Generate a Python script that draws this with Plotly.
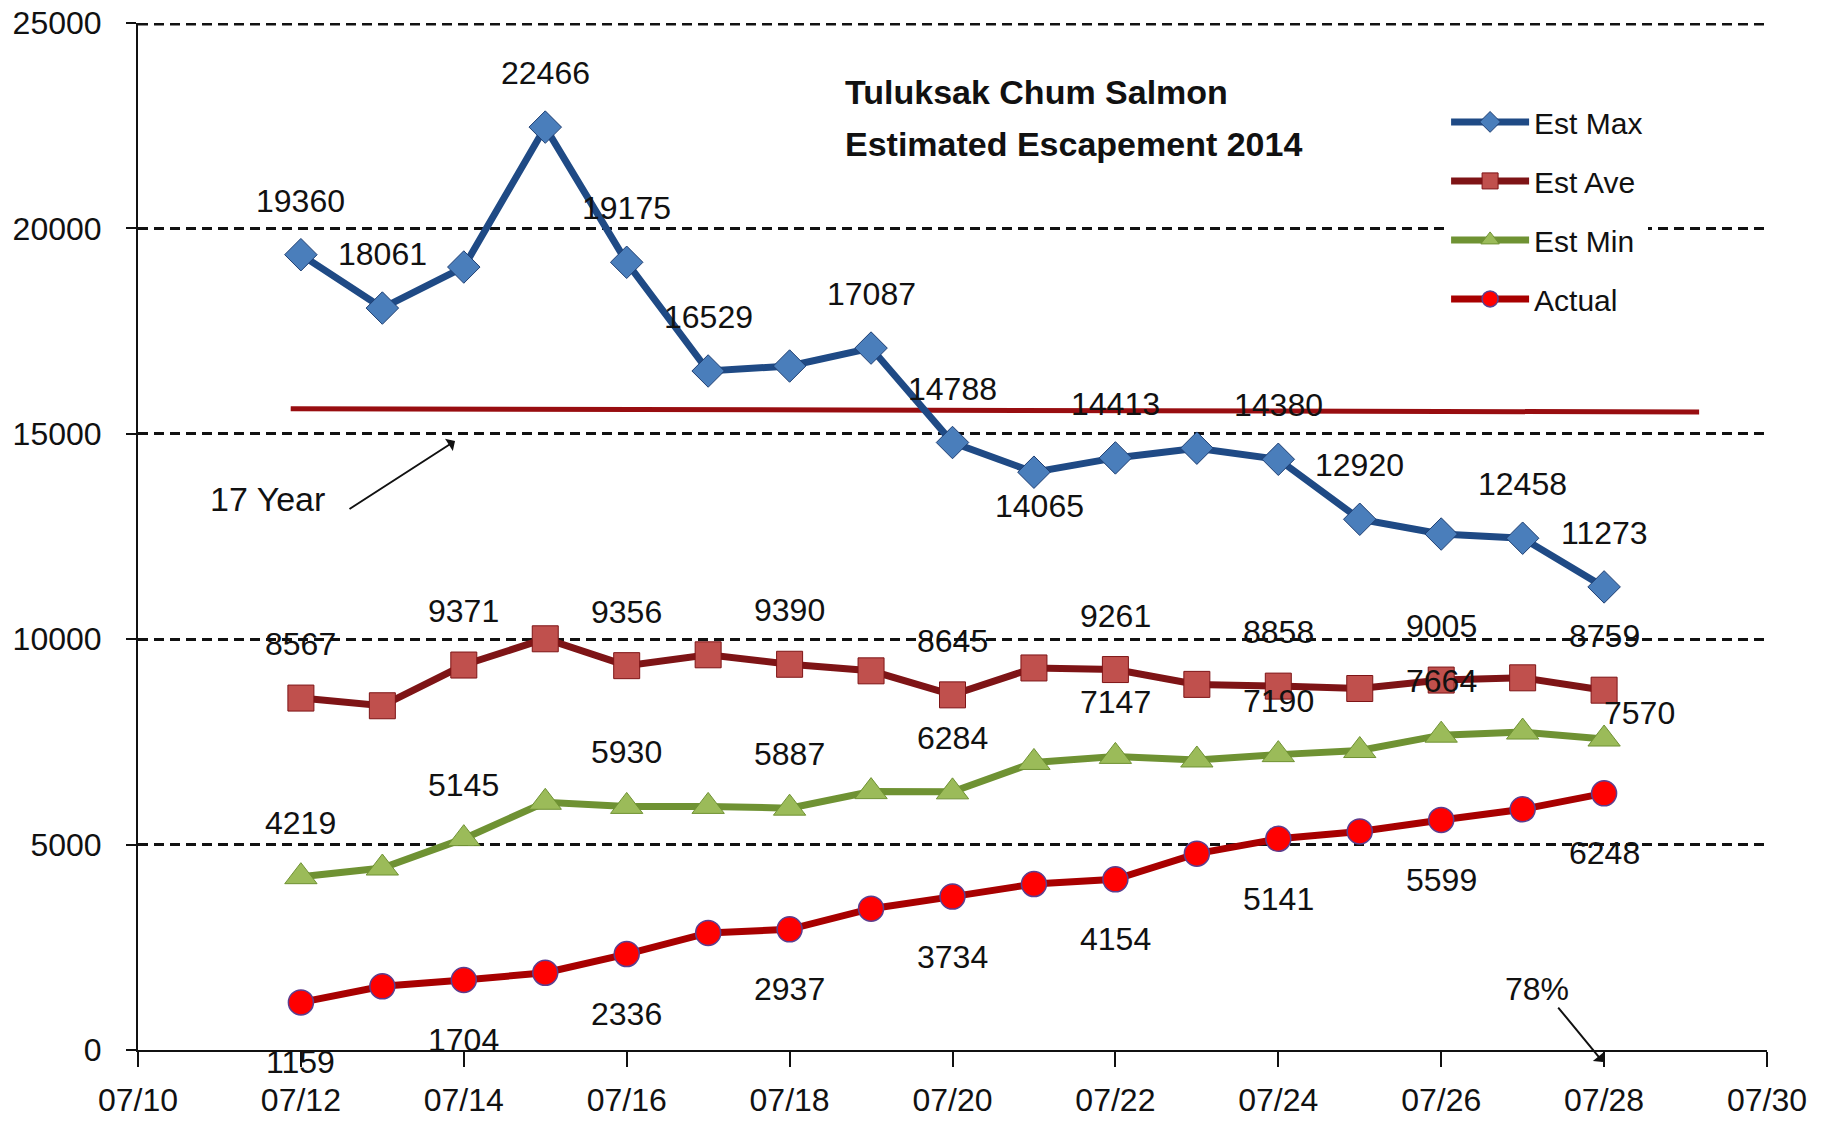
import plotly.graph_objects as go

dates = ["2014-07-%02d" % d for d in range(12, 29)]
est_max = [19360, 18061, 19060, 22466, 19175, 16529, 16650, 17087, 14788, 14065, 14413, 14650, 14380, 12920, 12560, 12458, 11273]
est_ave = [8567, 8380, 9371, 10010, 9356, 9620, 9390, 9230, 8645, 9300, 9261, 8900, 8858, 8800, 9005, 9060, 8759]
est_min = [4219, 4430, 5145, 6030, 5930, 5930, 5887, 6290, 6284, 7000, 7147, 7060, 7190, 7290, 7664, 7740, 7570]
actual = [1159, 1550, 1704, 1880, 2336, 2850, 2937, 3440, 3734, 4040, 4154, 4780, 5141, 5320, 5599, 5860, 6248]

# 17-year reference line
ref_x = ["2014-07-11 21:00", "2014-07-29 04:00"]
ref_y = [15610, 15530]

Y_MAX = 25000

# which points carry a data label, and where it sits (a=above, b=below, r=right)
max_labels = {"07-12": "a", "07-13": "a", "07-15": "a", "07-16": "a", "07-17": "a", "07-19": "a",
              "07-20": "a", "07-21": "b", "07-22": "a", "07-24": "a", "07-25": "a", "07-27": "a", "07-28": "a"}
ave_labels = {k: "a" for k in ["07-12", "07-14", "07-16", "07-18", "07-20", "07-22", "07-24", "07-26", "07-28"]}
min_labels = {k: "a" for k in ["07-12", "07-14", "07-16", "07-18", "07-20", "07-22", "07-24", "07-26"]}
min_labels["07-28"] = "r"
act_labels = {k: "b" for k in ["07-12", "07-14", "07-16", "07-18", "07-20", "07-22", "07-24", "07-26", "07-28"]}

FONT = "Liberation Sans, Arial, sans-serif"
DASH = "10px,6px"

fig = go.Figure()

fig.add_trace(go.Scatter(x=ref_x, y=ref_y, mode="lines", line=dict(color="#980D10", width=5),
                         showlegend=False, hoverinfo="skip"))

series = [
    ("Est Max", est_max, "#1F4A85", dict(symbol="diamond", size=25, color="#4A7EBB", line=dict(color="#1F3F73", width=1)), max_labels),
    ("Est Ave", est_ave, "#7E1416", dict(symbol="square", size=26, color="#C0504D", line=dict(color="#7E1416", width=1)), ave_labels),
    ("Est Min", est_min, "#6F9233", dict(symbol="triangle-up", size=28, color="#9BBB59", line=dict(color="#6F9233", width=1)), min_labels),
    ("Actual", actual, "#A80000", dict(symbol="circle", size=25, color="#FF0000", line=dict(color="#5B3E8F", width=1.5)), act_labels),
]

for i, (name, vals, lc, mk, labs) in enumerate(series):
    fig.add_trace(go.Scatter(x=dates, y=vals, mode="lines+markers", name=name,
                             line=dict(color=lc, width=7), marker=mk, legendgroup=str(i)))

annotations = []
for name, vals, lc, mk, labs in series:
    for d, v in zip(dates, vals):
        key = d[5:]
        if key in labs:
            pos = labs[key]
            if pos == "a":
                xs, ys = 0, 54
            elif pos == "b":
                xs, ys = (6 if name == "Est Max" else 0), (-34 if name == "Est Max" else -60)
            else:
                xs, ys = 35, 26
            annotations.append(dict(x=d, y=v, text=str(v), showarrow=False, xshift=xs, yshift=ys,
                                    xanchor="center", yanchor="middle",
                                    font=dict(family=FONT, size=32, color="#111111")))

# title
annotations.append(dict(xref="paper", yref="paper", x=0.4328, y=0.9328, xanchor="left", yanchor="middle",
                        text="<b>Tuluksak Chum Salmon</b>", showarrow=False,
                        font=dict(family=FONT, size=34, color="#111111")))
annotations.append(dict(xref="paper", yref="paper", x=0.4328, y=0.8822, xanchor="left", yanchor="middle",
                        text="<b>Estimated Escapement 2014</b>", showarrow=False,
                        font=dict(family=FONT, size=34, color="#111111")))
# 17 Year
annotations.append(dict(xref="paper", yref="paper", x=0.0798, y=0.5365, text="17 Year", showarrow=False,
                        xanchor="center", yanchor="middle",
                        font=dict(family=FONT, size=34, color="#111111")))
annotations.append(dict(xref="paper", yref="paper", x=0.1946, y=0.593, text="", showarrow=True,
                        ax=-107, ay=69, arrowhead=1, arrowsize=1.2, arrowwidth=2, arrowcolor="#111111"))
# 78%
annotations.append(dict(xref="paper", yref="paper", x=0.8588, y=0.0594, text="78%", showarrow=False,
                        xanchor="center", yanchor="middle",
                        font=dict(family=FONT, size=32, color="#111111")))
annotations.append(dict(xref="paper", yref="paper", x=0.8993, y=-0.0117, text="", showarrow=True,
                        ax=-46, ay=-56, arrowhead=1, arrowsize=1.2, arrowwidth=2, arrowcolor="#111111"))

# top gridline (plotly drops grid lines at the plot edge); half of it is clipped, so draw it wider
shapes = [dict(type="line", xref="paper", yref="y", x0=0, x1=1, y0=Y_MAX, y1=Y_MAX,
               line=dict(color="#111111", width=5, dash=DASH), layer="below")]

fig.update_layout(
    width=1829, height=1125,
    margin=dict(l=130, r=70, t=15, b=83, autoexpand=False),
    paper_bgcolor="white", plot_bgcolor="white",
    font=dict(family=FONT, size=32, color="#111111"),
    annotations=annotations,
    shapes=shapes,
    legend=dict(x=0.803, y=0.929, xanchor="left", yanchor="top", bgcolor="white",
                font=dict(family=FONT, size=30, color="#111111"), tracegroupgap=17,
                itemwidth=78),
    xaxis=dict(type="date", range=["2014-07-10", "2014-07-30"], tick0="2014-07-10",
               dtick=2 * 86400000, tickformat="%m/%d", showgrid=False, showline=True,
               linecolor="#111111", linewidth=2, ticks="outside", ticklen=15, tickwidth=2,
               tickcolor="#111111", tickfont=dict(family=FONT, size=32), automargin=False,
               ticklabelstandoff=6, ticklabeloverflow="allow"),
    yaxis=dict(range=[0, Y_MAX], dtick=5000, tickformat="d", showgrid=True, gridcolor="#111111",
               gridwidth=2.5, griddash=DASH, showline=True, linecolor="#111111", linewidth=2,
               ticks="outside", ticklen=10, tickwidth=2, tickcolor="#111111", zeroline=False,
               ticklabelstandoff=18, tickfont=dict(family=FONT, size=32), automargin=False,
               ticklabeloverflow="allow"),
)

fig.write_html("out.html")
